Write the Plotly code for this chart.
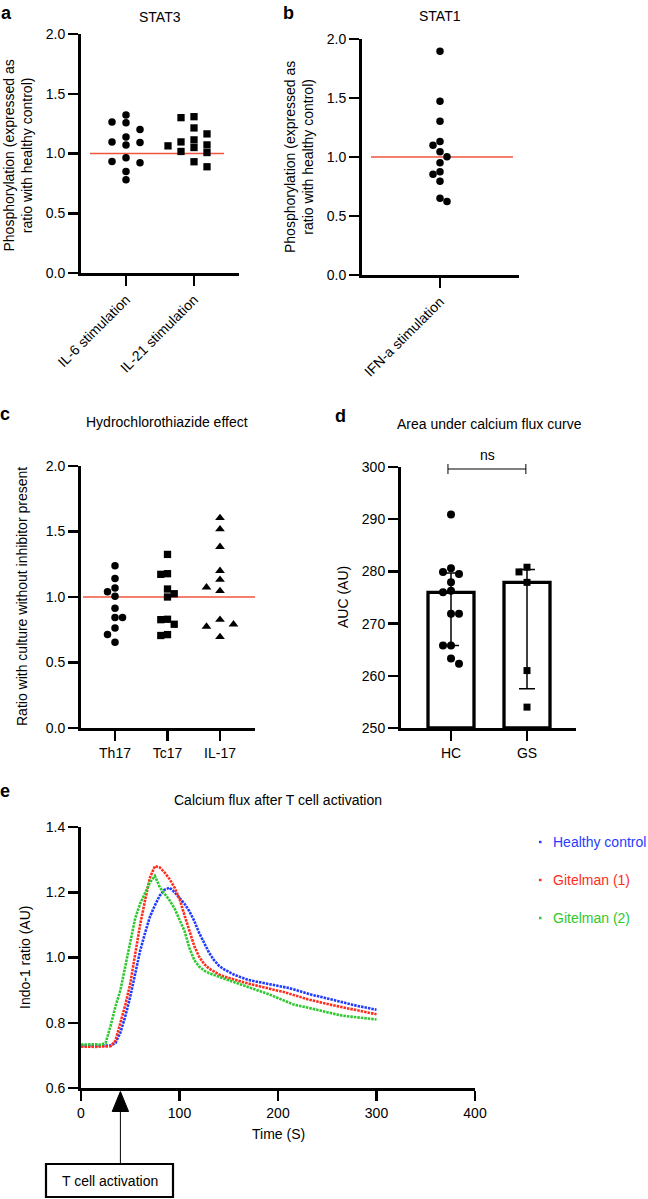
import numpy as np
import plotly.graph_objects as go

W, H = 648, 1199
FONT = "Liberation Sans, Arial, sans-serif"

# ---------------- data ----------------
stat3_categories = ["IL-6 stimulation", "IL-21 stimulation"]
il6_values = [1.322, 1.264, 1.200, 1.139, 1.072, 0.964, 0.850, 0.780, 1.097, 0.933, 1.258, 1.092, 0.922]
il21_values = [1.097, 1.017, 1.300, 1.164, 1.064, 0.889, 1.308, 1.214, 1.072, 1.008, 0.931, 1.114, 1.050]

stat1_categories = ["IFN-a stimulation"]
ifna_values = [1.896, 1.473, 1.304, 0.794, 1.099, 1.003, 0.876, 0.623, 1.132, 1.045, 0.952, 0.854, 0.651]

hctz_categories = ["Th17", "Tc17", "IL-17"]
th17_values = [1.041, 0.843, 0.764, 0.655, 1.239, 1.142, 0.914, 1.069, 1.005, 0.843, 0.713]
tc17_values = [1.025, 0.830, 1.178, 0.706, 1.325, 1.061, 1.000, 0.792, 1.173, 0.713, 0.827]
il17_values = [1.074, 0.827, 1.604, 1.518, 1.383, 1.200, 1.132, 1.046, 0.774, 0.695, 0.792]

auc_categories = ["HC", "GS"]
auc_hc = [290.9, 280.6, 279.9, 279.5, 277.9, 276.0, 276.3, 271.9, 271.9, 265.8, 265.8, 262.3, 263.3]
auc_gs = [280.8, 279.9, 277.9, 261.0, 254.0]

reference_ratio = 1.0
activation_time = 40

time_s = list(range(0, 301, 5))
healthy_control = [0.730, 0.729, 0.730, 0.729, 0.730, 0.729, 0.730,
                   0.738, 0.770, 0.820, 0.880, 0.950, 1.020, 1.075, 1.125, 1.160, 1.190,
                   1.208, 1.214, 1.200, 1.182, 1.165, 1.142, 1.112, 1.075, 1.043, 1.015,
                   0.992, 0.975, 0.964, 0.955, 0.948, 0.942, 0.936, 0.931, 0.928, 0.925,
                   0.923, 0.921, 0.918, 0.915, 0.911, 0.907, 0.903, 0.898, 0.893, 0.889,
                   0.885, 0.882, 0.878, 0.874, 0.870, 0.866, 0.862, 0.858, 0.855, 0.852,
                   0.849, 0.846, 0.843, 0.840]
gitelman_1 = [0.727, 0.726, 0.727, 0.726, 0.727, 0.727, 0.728,
              0.745, 0.800, 0.855, 0.920, 1.010, 1.100, 1.175, 1.245, 1.280, 1.276,
              1.260, 1.240, 1.214, 1.180, 1.130, 1.080, 1.035, 1.002, 0.980, 0.966,
              0.956, 0.948, 0.942, 0.937, 0.932, 0.928, 0.924, 0.920, 0.916, 0.912,
              0.908, 0.905, 0.901, 0.898, 0.895, 0.891, 0.886, 0.881, 0.877, 0.872,
              0.868, 0.864, 0.861, 0.857, 0.854, 0.851, 0.848, 0.845, 0.842, 0.839,
              0.836, 0.832, 0.829, 0.826]
gitelman_2 = [0.733, 0.734, 0.733, 0.734, 0.733, 0.738, 0.790,
              0.850, 0.900, 0.970, 1.050, 1.120, 1.165, 1.200, 1.230, 1.250, 1.215,
              1.195, 1.175, 1.150, 1.115, 1.082, 1.030, 0.992, 0.972, 0.960, 0.952,
              0.946, 0.940, 0.935, 0.930, 0.925, 0.920, 0.915, 0.910, 0.905, 0.900,
              0.894, 0.888, 0.882, 0.876, 0.869, 0.862, 0.857, 0.853, 0.850, 0.847,
              0.844, 0.840, 0.836, 0.832, 0.828, 0.825, 0.822, 0.820, 0.818, 0.816,
              0.814, 0.812, 0.811, 0.810]

series_names = ["Healthy control", "Gitelman (1)", "Gitelman (2)"]
series_colors = ["#1f3cff", "#ff2d1c", "#2ec82e"]

# ---------------- geometry (pixels) ----------------
geo = {
    "a": dict(x0=81, x1=239, yt=34, yb=273, cats=[126, 194]),
    "b": dict(x0=362, x1=519, yt=39, yb=275, cats=[440]),
    "c": dict(x0=81, x1=255, yt=466, yb=728, cats=[115, 167.5, 220]),
    "d": dict(x0=401, x1=576, yt=467, yb=728, cats=[451, 527]),
    "e": dict(x0=81, x1=475, yt=827, yb=1088),
}


def PX(p):
    return p / W


def PY(p):
    return 1 - p / H


def cat_range(g, unit=None):
    c = g["cats"]
    if unit is None:
        unit = c[1] - c[0]
    return [(g["x0"] - c[0]) / unit, (g["x1"] - c[0]) / unit], unit


def swarm(vals, ypu, step_px, diam_px, xpu):
    v = np.asarray(vals, float)
    order = np.argsort(-v, kind="stable")
    cols = {}
    res = np.zeros(len(v))
    for i in order:
        y = v[i] * ypu

        def free(c):
            return all(abs(y - yy) >= diam_px for yy in cols.get(c, []))

        chosen = 0 if free(0) else None
        k = 1
        while chosen is None:
            nl = sum(len(p) for c, p in cols.items() if c < 0)
            nr = sum(len(p) for c, p in cols.items() if c > 0)
            for c in ([-k, k] if nl <= nr else [k, -k]):
                if free(c):
                    chosen = c
                    break
            k += 1
        cols.setdefault(chosen, []).append(y)
        res[i] = chosen * step_px / xpu
    return res


fig = go.Figure()
axis_common = dict(showline=True, linecolor="black", linewidth=3, ticks="outside",
                   ticklen=10, tickwidth=2.5, tickcolor="black", showgrid=False,
                   zeroline=False, automargin=False,
                   tickfont=dict(size=14, color="black", family=FONT),
                   fixedrange=True)
layout_axes = {}
shapes = []
annotations = []


def add_axes(idx, g, xr, yr, **kw):
    sx = "" if idx == 1 else str(idx)
    xa = dict(axis_common, domain=[PX(g["x0"]), PX(g["x1"])], range=xr, anchor="y" + sx)
    ya = dict(axis_common, domain=[PY(g["yb"]), PY(g["yt"])], range=yr, anchor="x" + sx)
    xa.update(kw.get("x", {}))
    ya.update(kw.get("y", {}))
    layout_axes["xaxis" + sx] = xa
    layout_axes["yaxis" + sx] = ya
    return "x" + sx, "y" + sx


def dot_trace(xs, ys, symbol, size, xr, yr):
    fig.add_trace(go.Scatter(x=xs, y=ys, mode="markers", xaxis=xr, yaxis=yr,
                             marker=dict(symbol=symbol, size=size, color="black",
                                         line=dict(width=0)),
                             showlegend=False, hoverinfo="skip"))


def ref_line(xr, yr, xa, xb):
    shapes.append(dict(type="line", xref=xr, yref=yr, x0=xa, x1=xb,
                       y0=reference_ratio, y1=reference_ratio,
                       line=dict(color="#f2553f", width=1.3), layer="below"))


def text(x, y, s, size=14, angle=0, color="black", xanchor="center"):
    annotations.append(dict(x=PX(x), y=PY(y), xref="paper", yref="paper", text=s,
                            showarrow=False, textangle=angle, xanchor=xanchor,
                            yanchor="middle",
                            font=dict(size=size, color=color, family=FONT)))


# ---------------- panel a ----------------
g = geo["a"]
xr_a, unit_a = cat_range(g)
ypu = (g["yb"] - g["yt"]) / 2.0
xa, ya = add_axes(1, g, xr_a, [0, 2],
                  x=dict(tickvals=[0, 1], ticktext=stat3_categories, tickangle=-45),
                  y=dict(tickvals=[0, 0.5, 1, 1.5, 2], tickformat=".1f"))
ref_line(xa, ya, (90 - g["cats"][0]) / unit_a, (224 - g["cats"][0]) / unit_a)
dot_trace(0 + swarm(il6_values, ypu, 14, 7.0, unit_a), il6_values, "circle", 7.5, xa, ya)
dot_trace(1 + swarm(il21_values, ypu, 13, 7.0, unit_a), il21_values, "square", 7.3, xa, ya)

# ---------------- panel b ----------------
g = geo["b"]
xr_b, unit_b = cat_range(g, unit=68)
ypu = (g["yb"] - g["yt"]) / 2.0
xb, yb = add_axes(2, g, xr_b, [0, 2],
                  x=dict(tickvals=[0], ticktext=stat1_categories, tickangle=-45),
                  y=dict(tickvals=[0, 0.5, 1, 1.5, 2], tickformat=".1f"))
ref_line(xb, yb, (371 - g["cats"][0]) / unit_b, (513 - g["cats"][0]) / unit_b)
dot_trace(swarm(ifna_values, ypu, 7, 7.6, unit_b), ifna_values, "circle", 7.5, xb, yb)

# ---------------- panel c ----------------
g = geo["c"]
xr_c, unit_c = cat_range(g)
ypu = (g["yb"] - g["yt"]) / 2.0
xc, yc = add_axes(3, g, xr_c, [0, 2],
                  x=dict(tickvals=[0, 1, 2], ticktext=hctz_categories),
                  y=dict(tickvals=[0, 0.5, 1, 1.5, 2], tickformat=".1f"))
ref_line(xc, yc, (83 - g["cats"][0]) / unit_c, xr_c[1])
dot_trace(0 + swarm(th17_values, ypu, 7.5, 7.6, unit_c), th17_values, "circle", 7.5, xc, yc)
dot_trace(1 + swarm(tc17_values, ypu, 6.7, 7.6, unit_c), tc17_values, "square", 7.3, xc, yc)
dot_trace(2 + swarm(il17_values, ypu, 13.5, 7.6, unit_c), il17_values, "triangle-up", 8.5, xc, yc)

# ---------------- panel d ----------------
g = geo["d"]
xr_d, unit_d = cat_range(g)
ypu = (g["yb"] - g["yt"]) / 50.0
xd, yd = add_axes(4, g, xr_d, [250, 300],
                  x=dict(tickvals=[0, 1], ticktext=auc_categories),
                  y=dict(tickvals=[250, 260, 270, 280, 290, 300]))
groups = [auc_hc, auc_gs]
med = [float(np.median(v)) for v in groups]
q1 = [float(np.percentile(v, 25, method="weibull")) for v in groups]
q3 = [float(np.percentile(v, 75, method="weibull")) for v in groups]
fig.add_trace(go.Bar(x=[0, 1], y=[m - 250 for m in med], base=250, width=46 / unit_d,
                     xaxis=xd, yaxis=yd,
                     marker=dict(color="white", line=dict(color="black", width=3.3)),
                     showlegend=False, hoverinfo="skip"))
fig.add_trace(go.Scatter(x=[0, 1], y=med, mode="markers", xaxis=xd, yaxis=yd,
                         marker=dict(size=1, color="rgba(0,0,0,0)"),
                         error_y=dict(type="data", symmetric=False,
                                      array=[b - a for a, b in zip(med, q3)],
                                      arrayminus=[a - b for a, b in zip(med, q1)],
                                      thickness=1.5, width=8, color="black"),
                         showlegend=False, hoverinfo="skip"))
dot_trace(0 + swarm(auc_hc, ypu, 8, 8, unit_d), auc_hc, "circle", 8, xd, yd)
dot_trace(1 + swarm(auc_gs, ypu, 8, 8, unit_d), auc_gs, "square", 7, xd, yd)
# ns bracket
by = 469
shapes.append(dict(type="line", xref=xd, yref="paper", x0=-0.04, x1=0.985,
                   y0=PY(by), y1=PY(by), line=dict(color="black", width=1)))
for xv in (-0.04, 0.985):
    shapes.append(dict(type="line", xref=xd, yref="paper", x0=xv, x1=xv,
                       y0=PY(by - 5), y1=PY(by + 5), line=dict(color="black", width=1)))
text(487, 455, "ns")

# ---------------- panel e ----------------
g = geo["e"]
xe, ye = add_axes(5, g, [0, 400], [0.6, 1.4],
                  x=dict(tickvals=[0, 100, 200, 300, 400]),
                  y=dict(tickvals=[0.6, 0.8, 1.0, 1.2, 1.4], tickformat=".1f"))
for name, col, ys in zip(series_names, series_colors, [healthy_control, gitelman_1, gitelman_2]):
    fig.add_trace(go.Scatter(x=time_s, y=ys, mode="lines", name=name, xaxis=xe, yaxis=ye,
                             line=dict(color=col, width=2.6, dash="2.5px,1px"),
                             showlegend=False, hoverinfo="skip"))
# legend
for i, (name, col) in enumerate(zip(series_names, series_colors)):
    ly = 842 + i * 38
    shapes.append(dict(type="rect", xref="paper", yref="paper",
                       x0=PX(539), x1=PX(541.5), y0=PY(ly + 1.2), y1=PY(ly - 1.2),
                       fillcolor=col, line=dict(width=0)))
    text(550.5, ly, name, color=col, xanchor="left")

# activation arrow + box
ax_px = g["x0"] + activation_time * (g["x1"] - g["x0"]) / 400.0
tip, base = 1091.5, 1111.5
shapes.append(dict(type="path", xref="paper", yref="paper",
                   path=f"M {PX(ax_px)} {PY(tip)} L {PX(ax_px - 8.2)} {PY(base)} L {PX(ax_px + 8.2)} {PY(base)} Z",
                   fillcolor="black", line=dict(color="black", width=1)))
shapes.append(dict(type="line", xref="paper", yref="paper", x0=PX(ax_px), x1=PX(ax_px),
                   y0=PY(base), y1=PY(1164), line=dict(color="black", width=1)))
shapes.append(dict(type="rect", xref="paper", yref="paper", x0=PX(46), x1=PX(173),
                   y0=PY(1197), y1=PY(1164), line=dict(color="black", width=2.2),
                   fillcolor="white"))
text(110, 1181, "T cell activation")

# ---------------- titles / labels ----------------
text(160, 17, "STAT3")
text(440, 16, "STAT1")
text(167, 422, "Hydrochlorothiazide effect")
text(489, 424, "Area under calcium flux curve")
text(278, 800, "Calcium flux after T cell activation")

text(17.5, 156, "Phosphorylation (expressed as<br>ratio with healthy control)", angle=-90)
text(299, 157, "Phosphorylation (expressed as<br>ratio with healthy control)", angle=-90)
text(22, 597, "Ratio with culture without inhibitor present", angle=-90)
text(343, 597, "AUC (AU)", angle=-90)
text(25, 958, "Indo-1 ratio (AU)", angle=-90)
text(278, 1134, "Time (S)")

for lab, x, y in [("a", 6, 12.5), ("b", 288, 12.5), ("c", 5, 414), ("d", 340, 416), ("e", 5, 791)]:
    text(x, y, f"<b>{lab}</b>", size=18)

fig.update_layout(width=W, height=H, margin=dict(l=0, r=0, t=0, b=0),
                  paper_bgcolor="white", plot_bgcolor="white", showlegend=False,
                  font=dict(family=FONT, size=14, color="black"),
                  shapes=shapes, annotations=annotations, **layout_axes)

fig.write_html("out.html", config={"displayModeBar": False, "staticPlot": True},
               post_script="document.body.style.margin='0px';document.body.style.overflow='hidden';")
